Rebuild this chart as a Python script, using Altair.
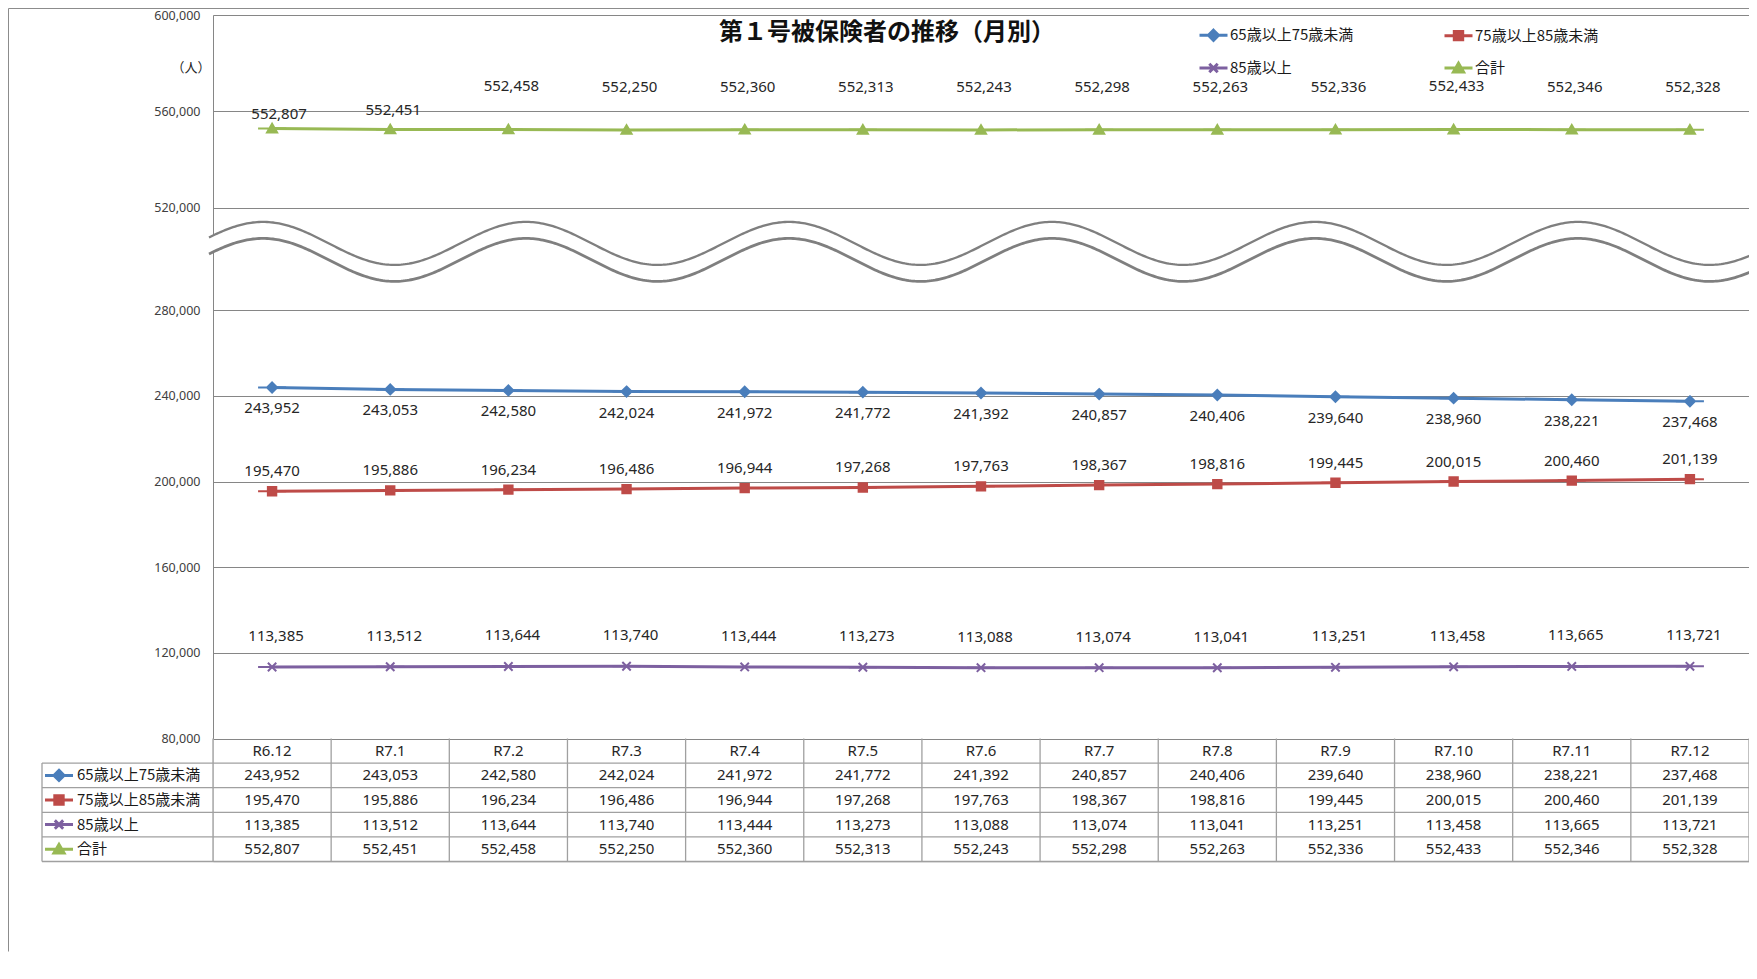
import altair as alt
import pandas as pd
import numpy as np

# ---------------- data ----------------
months = ["R6.12", "R7.1", "R7.2", "R7.3", "R7.4", "R7.5", "R7.6",
          "R7.7", "R7.8", "R7.9", "R7.10", "R7.11", "R7.12"]
series_names = ["65歳以上75歳未満", "75歳以上85歳未満", "85歳以上", "合計"]
v65_75 = [243952, 243053, 242580, 242024, 241972, 241772, 241392,
          240857, 240406, 239640, 238960, 238221, 237468]
v75_85 = [195470, 195886, 196234, 196486, 196944, 197268, 197763,
          198367, 198816, 199445, 200015, 200460, 201139]
v85 = [113385, 113512, 113644, 113740, 113444, 113273, 113088,
       113074, 113041, 113251, 113458, 113665, 113721]
v_total = [552807, 552451, 552458, 552250, 552360, 552313, 552243,
           552298, 552263, 552336, 552433, 552346, 552328]
y_ticks = [80000, 120000, 160000, 200000, 240000, 280000, 520000, 560000, 600000]
title_text = "第１号被保険者の推移（月別）"
unit_text = "（人）"

# ---------------- styles ----------------
colors = ["#4A7EBB", "#BE4B48", "#7D60A0", "#98B954"]
fills = ["#4A7EBB", "#BE4B48", "transparent", "#98B954"]
shape_paths = [
    "M-1,0L1,0M0,-0.36L0.36,0L0,0.36L-0.36,0Z",
    "M-1,0L1,0M-0.3,-0.3L0.3,-0.3L0.3,0.3L-0.3,0.3Z",
    "M-1,0L1,0M-0.3,-0.3L0.3,0.3M-0.3,0.3L0.3,-0.3",
    "M-1,0L1,0M0,-0.34L0.36,0.28L-0.36,0.28Z",
]
CJK = "Noto Sans CJK JP"
NUM = "Noto Sans"

PAD_L = 205
PAD_T = 7
W = 1536
PLOT_H = 723.5
TABLE_H = 123
H = PLOT_H + TABLE_H
COL_W = W / 13
LEFT_COL = 171  # px width of the table's label column
Y520 = 192.5
Y280 = 295.3

XS = alt.Scale(domain=[-0.5, 12.5], nice=False, zero=False)
YS = alt.Scale(domain=[80000, 280000, 520000, 600000],
               range=[PLOT_H, Y280, Y520, 0], nice=False, zero=False)
TS = alt.Scale(domain=[0, 5], range=[PLOT_H, H], nice=False, zero=False)

stroke_scale = alt.Scale(domain=series_names, range=colors)
fill_scale = alt.Scale(domain=series_names, range=fills)
shape_scale = alt.Scale(domain=series_names, range=shape_paths)

LEG = alt.Legend(title=None, orient="none", legendX=985, legendY=4.5, columns=2,
                 direction="horizontal",
                 columnPadding=84, rowPadding=6, symbolSize=784, symbolStrokeWidth=3,
                 symbolOpacity=1, labelFont=CJK, labelFontSize=15, labelColor="#1a1a1a",
                 labelOffset=1, padding=0)

# ---------------- tables ----------------
all_vals = [v65_75, v75_85, v85, v_total]
rows = []
for s_i, (name, vals) in enumerate(zip(series_names, all_vals)):
    for i, (m, v) in enumerate(zip(months, vals)):
        rows.append({"series": name, "s": s_i, "i": i, "month": m, "value": v,
                     "ty": s_i + 1.5, "col": colors[s_i]})
df = pd.DataFrame(rows)
df_months = pd.DataFrame({"i": list(range(len(months))), "month": months, "ty": 0.5})
df_series = pd.DataFrame({"series": series_names, "ty": [k + 1.5 for k in range(4)]})
df_vborders = pd.DataFrame({"b": [k - 0.5 for k in range(14)]})
df_hborders = pd.DataFrame({"r": [1, 2, 3, 4, 5]})

# wave (axis-break ornament) in the gap between 280,000 and 520,000
wx = np.arange(-4, W + 8, 2.0)
up_px = 228.4 - 21.5 * np.cos(2 * np.pi * (wx - 50) / 263)
lo_px = up_px + 16.5
def px2val(p):
    return 520000 - (p - Y520) / (Y280 - Y520) * 240000
df_wave = pd.DataFrame({"x": -0.5 + wx / COL_W, "up": px2val(up_px), "lo": px2val(lo_px)})

# ---------------- main plot layers ----------------
base = alt.Chart(df)

grid_layer = alt.Chart(pd.DataFrame({"v": [80000]})).mark_rule(opacity=0).encode(
    x=alt.value(0),
    y=alt.Y("v:Q", scale=YS, axis=alt.Axis(values=y_ticks, format=",d", grid=True,
            gridColor="#868686", gridWidth=1, domain=True, domainColor="#868686",
            domainWidth=1, ticks=False, labelPadding=13, labelFont=NUM,
            labelFontSize=12.5, labelColor="#404040", title=None, labelOverlap=False)),
)

lines = base.mark_line(strokeWidth=3).encode(
    x=alt.X("i:Q", scale=XS, axis=None),
    y=alt.Y("value:Q", scale=YS),
    stroke=alt.Stroke("col:N", scale=None),
    detail="series:N",
)

points = base.mark_point(filled=True, size=784, strokeWidth=2, opacity=1).encode(
    x=alt.X("i:Q", scale=XS),
    y=alt.Y("value:Q", scale=YS),
    stroke=alt.Stroke("series:N", scale=stroke_scale, legend=LEG),
    fill=alt.Fill("series:N", scale=fill_scale, legend=LEG),
    shape=alt.Shape("series:N", scale=shape_scale, legend=LEG),
)

def label_layer(filter_expr, dx, dy):
    return base.transform_filter(filter_expr).mark_text(
        font=NUM, fontSize=15, color="#262626", dx=dx, dy=dy, baseline="middle"
    ).encode(
        x=alt.X("i:Q", scale=XS),
        y=alt.Y("value:Q", scale=YS),
        text=alt.Text("value:Q", format=","),
    )

labels = [
    label_layer("datum.s == 0", 0, 21),
    label_layer("datum.s == 1", 0, -20),
    label_layer("datum.s == 2", 4, -31),
    label_layer("datum.s == 3 && datum.i == 0", 7, -15),
    label_layer("datum.s == 3 && datum.i == 1", 3, -19),
    label_layer("datum.s == 3 && datum.i >= 2", 3, -43),
]

wave_band = alt.Chart(df_wave).mark_area(color="white", opacity=1).encode(
    x=alt.X("x:Q", scale=XS), y=alt.Y("up:Q", scale=YS), y2="lo:Q")
wave_up = alt.Chart(df_wave).mark_line(color="#7F7F7F", strokeWidth=2.3).encode(
    x=alt.X("x:Q", scale=XS), y=alt.Y("up:Q", scale=YS))
wave_lo = alt.Chart(df_wave).mark_line(color="#7F7F7F", strokeWidth=2.8).encode(
    x=alt.X("x:Q", scale=XS), y=alt.Y("lo:Q", scale=YS))

one = pd.DataFrame({"k": [0]})
title_mark = alt.Chart(one).mark_text(font=CJK, fontSize=24, fontWeight="bold",
                                      color="#111111", baseline="middle").encode(
    x=alt.value(674), y=alt.value(17.5), text=alt.value(title_text))
unit_mark = alt.Chart(one).mark_text(font=CJK, fontSize=13, color="#262626",
                                     baseline="middle").encode(
    x=alt.value(-22), y=alt.value(53), text=alt.value(unit_text))

main = alt.layer(grid_layer, lines, wave_band, wave_up, wave_lo, points,
                 *labels, title_mark, unit_mark)

# ---------------- data table ----------------
TB = "#A0A0A0"
vb = alt.Chart(df_vborders).mark_rule(color=TB, strokeWidth=1.3).encode(
    x=alt.X("b:Q", scale=XS),
    y=alt.Y(datum=0, scale=TS, axis=None), y2=alt.Y2(datum=5))
hb = alt.Chart(df_hborders).mark_rule(color=TB, strokeWidth=1.3).encode(
    x=alt.value(-LEFT_COL), x2=alt.value(W),
    y=alt.Y("r:Q", scale=TS, axis=None))
lb = alt.Chart(one).mark_rule(color=TB, strokeWidth=1.3).encode(
    x=alt.value(-LEFT_COL),
    y=alt.Y(datum=1, scale=TS, axis=None), y2=alt.Y2(datum=5))
head_txt = alt.Chart(df_months).mark_text(font=NUM, fontSize=15, color="#262626",
                                          baseline="middle").encode(
    x=alt.X("i:Q", scale=XS), y=alt.Y("ty:Q", scale=TS, axis=None), text="month:N")
val_txt = alt.Chart(df).mark_text(font=NUM, fontSize=15, color="#262626",
                                  baseline="middle").encode(
    x=alt.X("i:Q", scale=XS), y=alt.Y("ty:Q", scale=TS, axis=None),
    text=alt.Text("value:Q", format=","))
name_txt = alt.Chart(df_series).mark_text(font=CJK, fontSize=15, color="#1a1a1a",
                                          align="left", baseline="middle").encode(
    x=alt.value(-LEFT_COL + 35), y=alt.Y("ty:Q", scale=TS, axis=None), text="series:N")
name_sym = alt.Chart(df_series).mark_point(filled=True, size=784, strokeWidth=3,
                                           opacity=1).encode(
    x=alt.value(-LEFT_COL + 17), y=alt.Y("ty:Q", scale=TS, axis=None),
    stroke=alt.Stroke("series:N", scale=stroke_scale, legend=LEG),
    fill=alt.Fill("series:N", scale=fill_scale, legend=LEG),
    shape=alt.Shape("series:N", scale=shape_scale, legend=LEG))

BOTTOM = 90
TOPLINE = -(PAD_T - 0.5)
frame = alt.Chart(pd.DataFrame({"x1": [-PAD_L + 0.5, -PAD_L + 0.5],
                                "y1": [TOPLINE, TOPLINE],
                                "x2": [-PAD_L + 0.5, W],
                                "y2": [H + BOTTOM, TOPLINE]})).mark_rule(
    color="#8C8C8C", strokeWidth=1).encode(
    x=alt.X("x1:Q", scale=None), x2="x2:Q",
    y=alt.Y("y1:Q", scale=None, axis=None), y2="y2:Q")

table = alt.layer(vb, hb, lb, head_txt, val_txt, name_sym, name_txt, frame)

chart = alt.layer(main, table).resolve_scale(y="independent").properties(
    width=W, height=H,
    autosize=alt.AutoSizeParams(type="none"),
    padding={"left": PAD_L, "top": PAD_T, "right": 0, "bottom": BOTTOM},
).configure_view(strokeWidth=0).configure(background="white")

chart.save("out.html", embed_options={"renderer": "svg", "actions": False})
